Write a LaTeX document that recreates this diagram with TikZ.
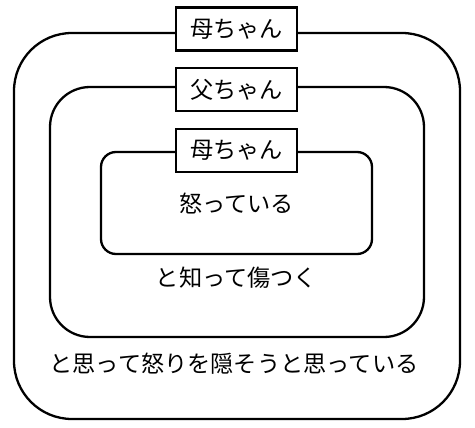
\documentclass[tikz,border=0pt]{standalone}
\usepackage{fontspec}
\setmainfont{Noto Sans CJK JP}
\begin{document}
\begin{tikzpicture}[x=1pt,y=-1pt,
  frame/.style={draw,line width=2.3pt,rounded corners=#1,inner sep=0pt},
  labelbox/.style={draw,line width=2.3pt,fill=white,minimum width=121pt,minimum height=43pt,inner sep=0pt,font=\fontsize{23.2}{26}\selectfont},
  txt/.style={inner sep=0pt,font=\fontsize{23.2}{26}\selectfont}]
\useasboundingbox (0,0) rectangle (475,428);
\node[frame=58pt,minimum width=446pt,minimum height=386pt] (outer) at (237,226) {};
\node[frame=40pt,minimum width=374pt,minimum height=250pt] (middle) at (237,212) {};
\node[frame=15pt,minimum width=271pt,minimum height=102pt] (inner) at (236.5,203) {};
\node[labelbox] (l1) at (236.5,29) {母ちゃん};
\node[labelbox] (l2) at (236.5,89.5) {父ちゃん};
\node[labelbox] (l3) at (236.5,150.5) {母ちゃん};
\node[txt] (t1) at (236.5,204) {怒っている};
\node[txt] (t2) at (236.5,278) {と知って傷つく};
\node[txt] (t3) at (234,364) {と思って怒りを隠そうと思っている};
\end{tikzpicture}
\end{document}
